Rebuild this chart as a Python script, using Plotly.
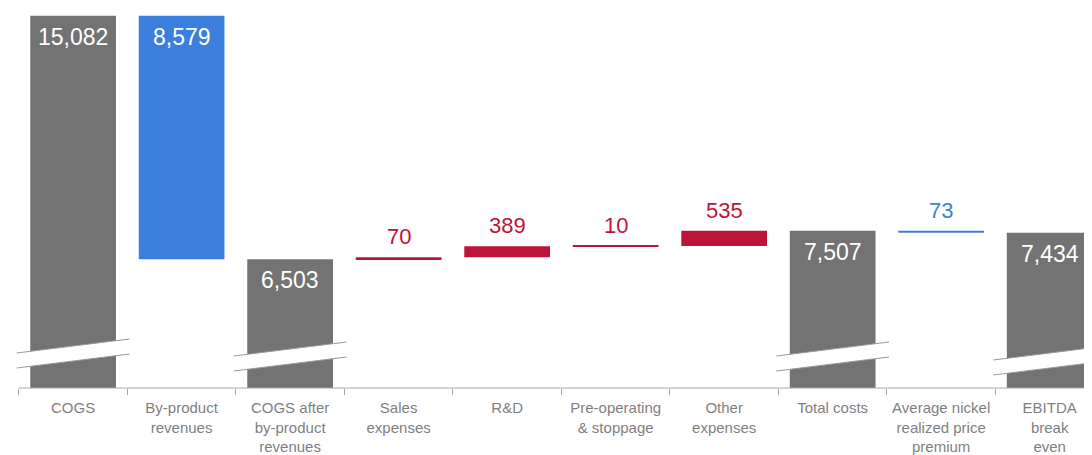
import plotly.graph_objects as go

# ---- data ----
categories = [
    "COGS",
    "By-product<br>revenues",
    "COGS after<br>by-product<br>revenues",
    "Sales<br>expenses",
    "R&D",
    "Pre-operating<br>& stoppage",
    "Other<br>expenses",
    "Total costs",
    "Average nickel<br>realized price<br>premium",
    "EBITDA<br>break<br>even",
]
measures = ["absolute", "relative", "total", "relative", "relative",
            "relative", "relative", "total", "relative", "total"]
values = [15082, -8579, 0, 70, 389, 10, 535, 0, -73, 0]

GRAY = "#737374"
BLUE = "#3c7edb"
RED = "#be1438"
LABEL_GRAY = "#7f7f7f"
FONT = "Liberation Sans, Arial, sans-serif"

# page body has an 8px margin, so the figure is sized to end at the window edge
PLOT_H = 380

# running levels so labels sit on the bars
levels = []
cur = 0
for m, v in zip(measures, values):
    prev = cur
    if m == "absolute":
        cur = v
        levels.append((0, cur))
    elif m == "total":
        levels.append((0, cur))
    else:
        cur = cur + v
        levels.append((prev, cur))

fig = go.Figure(go.Waterfall(
    x=categories,
    measure=measures,
    y=values,
    width=0.79,
    connector=dict(visible=False),
    increasing=dict(marker=dict(color=RED, line=dict(width=0))),
    decreasing=dict(marker=dict(color=BLUE, line=dict(width=0))),
    totals=dict(marker=dict(color=GRAY, line=dict(width=0))),
    hoverinfo="skip",
))

# value labels
for cat, m, v, (lo, hi) in zip(categories, measures, values, levels):
    if m in ("absolute", "total") or v < -1000:
        # white label inside the top of the bar
        top = max(lo, hi)
        txt = f"{abs(v) if m != 'total' else hi:,}"
        fig.add_annotation(x=cat, y=top, text=txt, showarrow=False,
                           yanchor="top", yshift=-6,
                           font=dict(family=FONT, size=23, color="white"))
    else:
        col = RED if v > 0 else BLUE
        fig.add_annotation(x=cat, y=max(lo, hi), text=f"{abs(v):,}",
                           showarrow=False, yanchor="bottom", yshift=6,
                           font=dict(family=FONT, size=22, color=col))

# axis-break marks on the tall bars (pixel heights above the baseline)
breaks = {0: 35, 2: 32, 7: 32, 9: 28}
rise = 14 / PLOT_H
thick = 15 / PLOT_H
for i, yb_px in breaks.items():
    yb = yb_px / PLOT_H
    x0, x1 = i - 0.52, i + 0.52
    fig.add_shape(type="path", xref="x", yref="y domain",
                  path=f"M {x0},{yb} L {x1},{yb + rise} L {x1},{yb + rise - thick} L {x0},{yb - thick} Z",
                  fillcolor="white", line=dict(width=0), layer="above")
    for off in (0, -thick):
        fig.add_shape(type="line", xref="x", yref="y domain",
                      x0=x0, y0=yb + off, x1=x1, y1=yb + rise + off,
                      line=dict(color="#999999", width=1), layer="above")

# baseline
fig.add_shape(type="line", xref="x", yref="y domain", x0=-0.5, x1=9.6, y0=0, y1=0,
              line=dict(color="#a6a6a6", width=1), layer="above")

fig.update_layout(
    width=1084, height=447,
    margin=dict(l=0, r=0, t=0, b=67),
    plot_bgcolor="white", paper_bgcolor="white",
    showlegend=False,
    font=dict(family=FONT, size=15, color=LABEL_GRAY),
)
fig.update_xaxes(
    range=[-0.60, 9.39],
    tickson="boundaries", ticks="outside", ticklen=6, tickcolor="#a6a6a6",
    ticklabelstandoff=9,
    showline=False, showgrid=False, zeroline=False,
    tickfont=dict(family=FONT, size=15, color=LABEL_GRAY),
)
fig.update_yaxes(range=[1970, 15353], visible=False, showgrid=False)

fig.write_html("out.html")
